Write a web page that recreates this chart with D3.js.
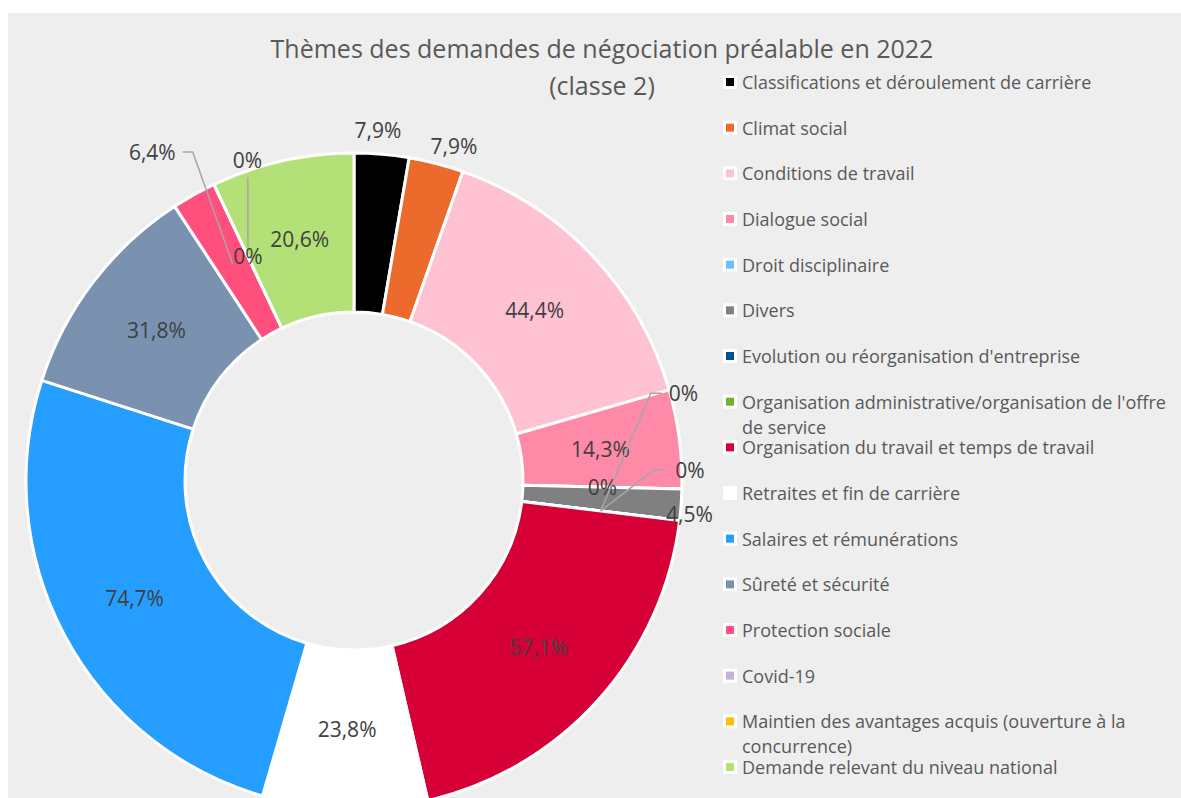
<!DOCTYPE html>
<html>
<head>
<meta charset="utf-8">
<script src="https://cdn.jsdelivr.net/npm/d3@7"></script>
<style>
  html, body { margin: 0; padding: 0; background: #ffffff; }
  svg { display: block; }
  text { font-family: "Open Sans", sans-serif; }
</style>
</head>
<body>
<svg id="chart" width="1181" height="798"></svg>
<script>
// data
var categories = [
	"Classifications et déroulement de carrière",
	"Climat social",
	"Conditions de travail",
	"Dialogue social",
	"Droit disciplinaire",
	"Divers",
	"Evolution ou réorganisation d'entreprise",
	"Organisation administrative/organisation de l'offre de service",
	"Organisation du travail et temps de travail",
	"Retraites et fin de carrière",
	"Salaires et rémunérations",
	"Sûreté et sécurité",
	"Protection sociale",
	"Covid-19",
	"Maintien des avantages acquis (ouverture à la concurrence)",
	"Demande relevant du niveau national"
];
var values = [7.9, 7.9, 44.4, 14.3, 0, 4.5, 0, 0, 57.1, 23.8, 74.7, 31.8, 6.4, 0, 0, 20.6];
var colors = ["#000000", "#ec6a2c", "#ffc2d3", "#ff8aa8", "#6ebeff", "#808080", "#004d99", "#6fb52c",
	"#d60036", "#ffffff", "#259eff", "#7a91b0", "#ff4f7c", "#c8aedb", "#ffc000", "#b3e077"];
var titleLines = ["Thèmes des demandes de négociation préalable en 2022", "(classe 2)"];

// labels that were pushed out of their slice (angle in degrees from the top, radius in px)
var movedLabels = {
	0:  { angle: 3.9,   r: 352 },
	1:  { angle: 16.6,  r: 350 },
	5:  { angle: 95.6,  r: 337 },
	6:  { angle: 75.1,  r: 341, leader: "right", elbow: 18, gap: 7 },
	7:  { angle: 88.1,  r: 336, leader: "right", elbow: 21, gap: 10 },
	12: { angle: 328.5, r: 386, leader: "left", elbow: 17, gap: 7 },
	14: { angle: 341.6, r: 338, leader: "down" }
};

var svg = d3.select("#chart");
var W = 1181, H = 798;
var cx = 354, cy = 481, outerR = 328, innerR = 169;

svg.append("rect")
	.attr("x", 8).attr("y", 13)
	.attr("width", W - 8).attr("height", H - 13)
	.attr("fill", "#eeeeee");

// title
svg.append("g").selectAll("text")
	.data(titleLines)
	.enter()
		.append("text")
		.attr("x", 602)
		.attr("y", function(d, i){ return 58 + i * 37; })
		.attr("text-anchor", "middle")
		.attr("fill", "#595959")
		.attr("font-size", "25px")
		.text(function(d){ return d; });

var pie = d3.pie().sort(null).value(function(d){ return d; });
var arcs = pie(values);
var arc = d3.arc().innerRadius(innerR).outerRadius(outerR);
var mid = d3.arc().innerRadius((innerR + outerR) / 2).outerRadius((innerR + outerR) / 2);

var g = svg.append("g").attr("transform", "translate(" + cx + "," + cy + ")");

g.append("g")
	.selectAll("path")
	.data(arcs)
	.enter()
		.append("path")
		.attr("d", arc)
		.attr("fill", function(d, i){ return colors[i]; })
		.attr("stroke", "#ffffff")
		.attr("stroke-width", 3)
		.attr("stroke-linejoin", "round");

var fmt = function(v){ return String(v).replace(".", ","); };
var polar = function(angle, r){
	var a = angle * Math.PI / 180;
	return [r * Math.sin(a), -r * Math.cos(a)];
};

var labels = g.append("g");
var leaders = g.append("g");
arcs.forEach(function(d, i){
	var anchor = mid.centroid(d);
	var m = movedLabels[i];
	var pos = m ? polar(m.angle, m.r) : anchor;
	var t = labels.append("text")
		.attr("x", pos[0])
		.attr("y", pos[1])
		.attr("text-anchor", "middle")
		.attr("dominant-baseline", "central")
		.attr("fill", "#404040")
		.attr("font-size", "21px")
		.text(fmt(values[i]) + "%");
	if(m && m.leader){
		var w = t.node().getComputedTextLength();
		var pts;
		if(m.leader === "right"){
			var left = pos[0] - w / 2;
			pts = [anchor, [left - m.elbow, pos[1]], [left - m.gap, pos[1]]];
		} else if(m.leader === "left"){
			var right = pos[0] + w / 2;
			pts = [anchor, [right + m.elbow, pos[1]], [right + m.gap, pos[1]]];
		} else {
			pts = [[anchor[0], anchor[1] - 9], [anchor[0], pos[1] + 17]];
		}
		leaders.append("path")
			.attr("d", d3.line()(pts))
			.attr("fill", "none")
			.attr("stroke", "#a6a6a6")
			.attr("stroke-width", 1.5);
	}
});

// legend
var ly = d3.scalePoint().domain(categories).range([82, 767]);
var legend = svg.append("g");
var maxW = W - 742 - 2;
categories.forEach(function(c, i){
	var y = ly(c);
	legend.append("rect")
		.attr("x", 723).attr("y", y - 7)
		.attr("width", 14).attr("height", 14)
		.attr("fill", "#ffffff");
	legend.append("rect")
		.attr("x", 726).attr("y", y - 4)
		.attr("width", 8).attr("height", 8)
		.attr("fill", colors[i]);
	var t = legend.append("text")
		.attr("x", 742)
		.attr("y", y)
		.attr("dominant-baseline", "central")
		.attr("fill", "#595959")
		.attr("font-size", "18px");
	var words = c.split(" "), line = [], lineNo = 0;
	var ts = t.append("tspan").attr("x", 742).attr("y", y);
	words.forEach(function(wd){
		line.push(wd);
		ts.text(line.join(" "));
		if(ts.node().getComputedTextLength() > maxW && line.length > 1){
			line.pop();
			ts.text(line.join(" "));
			line = [wd];
			lineNo++;
			ts = t.append("tspan").attr("x", 742).attr("y", y + lineNo * 25).text(wd);
		}
	});
});
</script>
</body>
</html>
